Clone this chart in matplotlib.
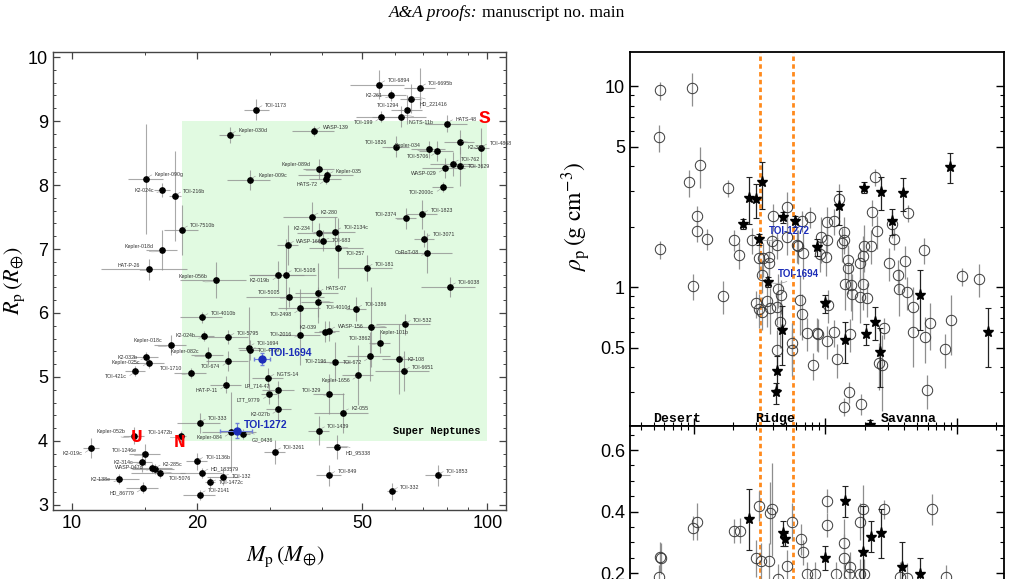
import matplotlib
matplotlib.use('Agg')
import matplotlib.pyplot as plt
import matplotlib.ticker as ticker
from matplotlib.patches import Rectangle
import numpy as np

plt.rcParams['font.family'] = ['Liberation Sans', 'DejaVu Sans']
plt.rcParams['mathtext.fontset'] = 'stix'

# ---------------- left panel: mass-radius diagram ----------------
planet_names = [
    'TOI-1173', 'Kepler-030d', 'Kepler-090g', 'K2-024c', 'TOI-216b', 'Kepler-009c',
    'TOI-6894', 'TOI-6695b', 'K2-261', 'HD_221416', 'TOI-1294', 'TOI-199',
    'NGTS-11b', 'HATS-48', 'WASP-139', 'K2-329', 'TOI-1826', 'TOI-4868',
    'Kepler-034', 'TOI-5706', 'TOI-762', 'TOI-3629', 'WASP-029', 'Kepler-089d',
    'Kepler-035', 'HATS-72', 'TOI-2000c', 'TOI-7510b', 'Kepler-018d', 'HAT-P-26',
    'Kepler-056b', 'K2-019b', 'TOI-5108', 'WASP-166', 'K2-280', 'K2-234',
    'TOI-2134c', 'TOI-683', 'TOI-257', 'TOI-2374', 'TOI-1823', 'TOI-3071',
    'CoRoT-08', 'TOI-181', 'TOI-6038', 'HATS-07', 'TOI-5005', 'TOI-4010d',
    'TOI-2498', 'TOI-1386', 'TOI-532', 'K2-039', 'WASP-156', 'TOI-2016',
    'Kepler-101b', 'TOI-3862', 'TOI-4010b', 'K2-024b', 'TOI-5795', 'Kepler-018c',
    'TOI-1694', 'TOI-4479', 'K2-032b', 'Kepler-025c', 'Kepler-082c', 'TOI-674',
    'TOI-421c', 'TOI-1710', 'NGTS-14', 'LP_714-47', 'HAT-P-11', 'LTT_9779',
    'K2-027b', 'TOI-333', 'Kepler-084', 'GJ_0436', 'Kepler-052b', 'TOI-1472b',
    'TOI-3261', 'K2-019c', 'TOI-1246e', 'K2-314c', 'K2-285c', 'WASP-047d',
    'TOI-5076', 'K2-138e', 'HD_86779', 'TOI-1136b', 'HD_183579', 'TOI-132',
    'TOI-1472c', 'TOI-2141', 'TOI-2196', 'TOI-672', 'K2-108', 'TOI-6651',
    'Kepler-1656', 'TOI-329', 'K2-055', 'TOI-1439', 'HD_95338', 'TOI-849',
    'TOI-332', 'TOI-1853',
]
planet_mass = [
    27.8, 24.0, 15.1, 16.5, 17.7, 26.8,
    54.9, 68.8, 58.6, 65.4, 64.1, 55.5,
    61.8, 79.9, 38.3, 85.7, 60.2, 96.5,
    72.3, 75.6, 82.5, 85.7, 78.9, 39.3,
    41.2, 40.8, 78.0, 18.4, 16.5, 15.3,
    22.2, 31.4, 32.7, 33.1, 37.9, 39.3,
    43.0, 40.3, 43.6, 63.5, 69.6, 70.5,
    71.5, 51.2, 81.2, 39.0, 33.3, 39.0,
    35.4, 48.3, 63.2, 40.6, 41.6, 35.4,
    52.5, 55.1, 20.6, 20.8, 23.8, 17.3,
    26.6, 26.8, 15.1, 15.3, 21.2, 23.8,
    14.2, 19.3, 29.7, 31.4, 23.5, 29.8,
    31.4, 20.3, 24.1, 25.8, 14.1, 18.3,
    30.8, 11.1, 15.0, 14.7, 15.8, 15.6,
    16.3, 13.0, 14.8, 20.0, 20.6, 23.1,
    21.5, 20.3, 43.0, 52.1, 61.2, 62.9,
    48.9, 41.6, 44.9, 39.3, 43.4, 41.6,
    58.9, 75.9,
]
planet_radius = [
    9.18, 8.78, 8.10, 7.92, 7.83, 8.08,
    9.57, 9.52, 9.40, 9.35, 9.18, 9.07,
    9.07, 8.96, 8.84, 8.67, 8.60, 8.58,
    8.56, 8.53, 8.33, 8.29, 8.27, 8.25,
    8.15, 8.09, 7.97, 7.30, 6.98, 6.68,
    6.51, 6.59, 6.60, 7.06, 7.50, 7.25,
    7.27, 7.13, 7.02, 7.48, 7.54, 7.16,
    6.94, 6.70, 6.41, 6.31, 6.25, 6.17,
    6.07, 6.06, 5.82, 5.71, 5.72, 5.66,
    5.78, 5.53, 5.93, 5.64, 5.62, 5.50,
    5.46, 5.42, 5.31, 5.22, 5.34, 5.25,
    5.09, 5.06, 4.98, 4.80, 4.88, 4.73,
    4.50, 4.28, 4.14, 4.11, 4.08, 4.07,
    3.83, 3.89, 3.79, 3.67, 3.56, 3.58,
    3.50, 3.40, 3.27, 3.68, 3.50, 3.44,
    3.35, 3.16, 5.24, 5.32, 5.28, 5.09,
    5.03, 4.73, 4.44, 4.16, 3.90, 3.46,
    3.21, 3.46,
]
mass_rel_err = [
    0.069, 0.057, 0.099, 0.045, 0.034, 0.117,
    0.149, 0.087, 0.087, 0.057, 0.087, 0.130,
    0.149, 0.117, 0.117, 0.081, 0.075, 0.045,
    0.093, 0.093, 0.117, 0.087, 0.117, 0.087,
    0.149, 0.087, 0.057, 0.093, 0.087, 0.234,
    0.181, 0.149, 0.181, 0.057, 0.149, 0.117,
    0.117, 0.057, 0.149, 0.057, 0.087, 0.057,
    0.149, 0.149, 0.149, 0.117, 0.214, 0.087,
    0.117, 0.057, 0.149, 0.057, 0.057, 0.117,
    0.087, 0.057, 0.117, 0.057, 0.117, 0.087,
    0.057, 0.057, 0.069, 0.087, 0.087, 0.117,
    0.057, 0.087, 0.087, 0.087, 0.087, 0.045,
    0.069, 0.117, 0.149, 0.039, 0.057, 0.028,
    0.057, 0.045, 0.087, 0.057, 0.117, 0.117,
    0.149, 0.117, 0.087, 0.057, 0.117, 0.087,
    0.028, 0.087, 0.087, 0.117, 0.087, 0.149,
    0.087, 0.087, 0.149, 0.057, 0.057, 0.069,
    0.028, 0.069,
]
radius_err = [
    0.17, 0.13, 0.86, 0.11, 0.70, 0.16,
    0.23, 0.31, 0.09, 0.23, 0.23, 0.08,
    0.16, 0.13, 0.08, 0.19, 0.16, 0.31,
    0.13, 0.16, 0.19, 0.31, 0.16, 0.16,
    0.08, 0.08, 0.08, 0.39, 0.31, 0.16,
    0.28, 0.23, 0.55, 0.31, 0.23, 0.16,
    0.23, 0.16, 0.47, 0.16, 0.23, 0.13,
    0.31, 0.20, 0.16, 0.47, 0.16, 0.23,
    0.31, 0.19, 0.16, 0.16, 0.16, 0.47,
    0.63, 0.16, 0.08, 0.08, 0.11, 0.16,
    0.63, 0.16, 0.08, 0.08, 0.13, 0.16,
    0.08, 0.08, 0.16, 0.13, 0.13, 0.16,
    0.23, 0.16, 0.63, 0.08, 0.13, 0.09,
    0.19, 0.16, 0.16, 0.16, 0.08, 0.08,
    0.08, 0.08, 0.08, 0.13, 0.08, 0.13,
    0.08, 0.08, 0.31, 0.39, 0.55, 0.31,
    0.47, 0.31, 0.31, 0.23, 0.19, 0.16,
    0.13, 0.16,
]

highlight_names = ['TOI-1694', 'TOI-1272']
highlight_mass = [28.7, 24.9]
highlight_radius = [5.28, 4.16]
highlight_mass_err = [1.3, 2.2]
highlight_radius_err = [0.09, 0.12]

box_mass = [18.4, 100.0]
box_radius = [4.0, 9.0]

# label placement around each point (layout only)
label_side = [
    'ru', 'ru', 'ru', 'l', 'ru', 'ru',
    'ru', 'ru', 'l', 'rd', 'lu', 'ld',
    'rd', 'ru', 'ru', 'rd', 'lu', 'ru',
    'lu', 'ld', 'ru', 'r', 'ld', 'lu',
    'ru', 'ld', 'ld', 'ru', 'lu', 'lu',
    'lu', 'ld', 'ru', 'ru', 'ru', 'lu',
    'ru', 'r', 'rd', 'lu', 'ru', 'ru',
    'l', 'ru', 'ru', 'ru', 'lu', 'rd',
    'ld', 'ru', 'ru', 'lu', 'ru', 'l',
    'rd', 'lu', 'ru', 'l', 'ru', 'lu',
    'ru', 'r', 'l', 'l', 'lu', 'ld',
    'ld', 'lu', 'ru', 'lu', 'ld', 'ld',
    'ld', 'ru', 'ld', 'rd', 'lu', 'lu',
    'ru', 'ld', 'lu', 'l', 'ru', 'l',
    'rd', 'l', 'ld', 'ru', 'ru', 'r',
    'r', 'ru', 'l', 'ld', 'r', 'ru',
    'ld', 'lu', 'ru', 'ru', 'rd', 'ru',
    'ru', 'ru',
]
side_offsets = {'ru': (6, 3), 'r': (6, 0), 'rd': (6, -4),
                'lu': (-6, 3), 'l': (-6, 0), 'ld': (-6, -4)}

# ---------------- right panels: density / second quantity vs period ----------------
dens_circ_period = [
    0.556, 0.978, 0.547, 1.12, 0.924, 1.83, 1.06, 1.06, 1.26, 2.04,
    4.0, 5.16, 6.71, 7.68, 2.77, 3.97, 4.28, 0.556, 6.08, 5.13,
    23.9, 22.6, 42.9, 12.7, 32.0, 24.8, 33.6, 13.8, 13.8, 13.4,
    10.3, 11.7, 9.25, 10.3, 19.7, 22.3, 56.4, 2.23, 3.16, 3.39,
    3.73, 3.74, 3.33, 0.996, 1.68, 4.41, 4.60, 2.98, 3.15, 3.33,
    3.6, 3.81, 4.28, 4.54, 4.28, 5.63, 5.63, 6.44, 6.71, 7.32,
    8.63, 8.09, 6.19, 6.83, 9.14, 10.2, 19.5, 18.4, 15.0, 14.9,
    14.2, 15.6, 15.9, 19.3, 18.4, 20.7, 30.7, 40.6, 35.8, 36.6,
    41.7, 110.0, 147.6, 10.6, 8.87, 10.3, 11.7, 15.5, 28.0, 25.5,
    27.0, 12.4, 46.5, 46.5, 57.7, 62.7, 90.9, 81.9, 15.2, 13.8,
    18.6, 59.1,
]
dens_circ_rho = [
    9.52, 9.81, 5.56, 4.03, 3.32, 3.11, 2.25, 1.90, 1.74, 1.71,
    2.25, 2.51, 2.13, 2.24, 1.71, 1.70, 1.62, 1.54, 1.62, 1.78,
    3.53, 2.37, 2.33, 2.73, 2.07, 1.90, 1.73, 1.88, 1.71, 1.65,
    2.11, 2.13, 1.78, 1.71, 1.61, 1.61, 1.53, 1.44, 1.39, 1.39,
    1.42, 1.32, 1.15, 1.01, 0.905, 0.977, 0.912, 0.83, 0.777, 0.754,
    0.852, 0.786, 0.798, 0.672, 0.488, 0.525, 0.486, 0.862, 0.734, 0.592,
    0.592, 0.408, 1.61, 1.48, 1.46, 1.41, 1.43, 1.32, 1.36, 1.25,
    1.04, 1.03, 0.923, 1.04, 0.895, 0.879, 1.32, 1.35, 1.15, 0.974,
    0.948, 1.13, 1.10, 0.814, 0.584, 0.541, 0.595, 0.584, 0.627, 0.417,
    0.408, 0.438, 0.792, 0.595, 0.566, 0.66, 0.685, 0.49, 0.301, 0.254,
    0.262, 0.307,
]
dens_circ_err = [
    0.10, 0.19, 0.15, 0.23, 0.15, 0.10, 0.12, 0.12, 0.12, 0.12,
    0.15, 0.19, 0.12, 0.12, 0.15, 0.12, 0.15, 0.10, 0.19, 0.19,
    0.10, 0.15, 0.10, 0.19, 0.15, 0.19, 0.12, 0.19, 0.15, 0.19,
    0.19, 0.15, 0.26, 0.15, 0.26, 0.19, 0.15, 0.15, 0.19, 0.19,
    0.19, 0.15, 0.19, 0.15, 0.19, 0.19, 0.19, 0.15, 0.19, 0.19,
    0.26, 0.26, 0.19, 0.26, 0.26, 0.26, 0.26, 0.33, 0.26, 0.19,
    0.19, 0.15, 0.19, 0.26, 0.19, 0.19, 0.26, 0.19, 0.19, 0.26,
    0.26, 0.26, 0.26, 0.26, 0.26, 0.19, 0.19, 0.19, 0.19, 0.26,
    0.19, 0.10, 0.19, 0.19, 0.19, 0.19, 0.15, 0.19, 0.12, 0.26,
    0.41, 0.19, 0.26, 0.33, 0.26, 0.26, 0.33, 0.19, 0.12, 0.10,
    0.12, 0.19,
]
dens_star_period = [3.3, 2.64, 2.97, 2.36, 4.76, 5.94, 3.16, 88.9, 19.7, 26.4,
                    39.3, 12.8, 32.4, 8.63, 3.66, 4.70, 4.33, 4.21, 52.8, 10.0,
                    14.2, 20.3, 24.1, 26.1, 171.9, 21.9]
dens_star_rho = [3.32, 2.79, 2.74, 2.06, 2.23, 2.13, 1.73, 3.97, 3.13, 2.98,
                 2.94, 2.53, 2.13, 1.58, 1.06, 0.609, 0.383, 0.299, 0.916, 0.83,
                 0.545, 0.584, 0.672, 0.473, 0.595, 0.206]
dens_star_err = [0.26, 0.26, 0.19, 0.06, 0.06, 0.06, 0.06, 0.17, 0.06, 0.19,
                 0.19, 0.19, 0.15, 0.10, 0.06, 0.33, 0.19, 0.12, 0.33, 0.10,
                 0.23, 0.12, 0.19, 0.33, 0.33, 0.06]

ridge_names = ['TOI-1272', 'TOI-1694']
ridge_period = [3.16, 3.66]
ridge_rho = [1.73, 1.06]

frac_circ_period = [
    0.553, 0.566, 0.545, 0.996, 1.07, 2.04, 2.26, 3.14, 2.98, 3.25,
    3.75, 3.81, 3.97, 5.16, 5.63, 6.56, 6.83, 7.32, 8.43, 10.4,
    10.3, 13.8, 13.8, 15.5, 12.2, 18.4, 19.3, 18.4, 19.7, 15.2,
    27.9, 37.1, 41.7, 65.2, 82.5, 4.35,
]
frac_circ_val = [
    0.253, 0.248, 0.188, 0.347, 0.367, 0.337, 0.338, 0.418, 0.248, 0.239,
    0.239, 0.396, 0.407, 0.224, 0.367, 0.31, 0.268, 0.197, 0.197, 0.434,
    0.356, 0.297, 0.248, 0.219, 0.197, 0.367, 0.407, 0.197, 0.197, 0.197,
    0.407, 0.188, 0.184, 0.407, 0.188, 0.18,
]
frac_circ_err = [
    0.05, 0.05, 0.04, 0.04, 0.06, 0.04, 0.04, 0.05, 0.06, 0.06,
    0.06, 0.10, 0.15, 0.05, 0.06, 0.05, 0.04, 0.04, 0.04, 0.04,
    0.04, 0.08, 0.08, 0.05, 0.04, 0.06, 0.08, 0.05, 0.05, 0.05,
    0.03, 0.05, 0.05, 0.05, 0.04, 0.05,
]
frac_star_period = [2.63, 4.76, 4.96, 10.0, 14.2, 19.5, 22.2, 26.4, 38.6, 52.6]
frac_star_val = [0.375, 0.329, 0.31, 0.25, 0.434, 0.269, 0.318, 0.329, 0.22, 0.199]
frac_star_err = [0.10, 0.04, 0.02, 0.04, 0.05, 0.15, 0.05, 0.08, 0.08, 0.05]

ridge_edges = [3.2, 5.7]
region_names = ['Desert', 'Ridge', 'Savanna']
region_centres = [0.75, 4.2, 42.9]

fig = plt.figure(figsize=(10.13, 5.79), dpi=100)

fig.text(0.4715, 0.9775, 'A&A proofs:', ha='right', va='center', fontsize=12.5,
         family='Liberation Serif', style='italic')
fig.text(0.4755, 0.9775, 'manuscript no. main', ha='left', va='center', fontsize=12.5,
         family='Liberation Serif')

# ---- left axes
ax = fig.add_axes([0.0523, 0.1192, 0.4472, 0.7910])
ax.set_xscale('log')
ax.set_xlim(9.0, 110.8)
ax.set_ylim(2.92, 10.08)

ax.add_patch(Rectangle((box_mass[0], box_radius[0]), box_mass[1] - box_mass[0],
                       box_radius[1] - box_radius[0], facecolor='#e1fae1',
                       edgecolor='none', zorder=0))

mass = np.array(planet_mass)
rad = np.array(planet_radius)
ax.errorbar(mass, rad, xerr=mass * np.array(mass_rel_err), yerr=radius_err,
            fmt='none', ecolor='#8c8c8c', elinewidth=0.8, alpha=0.75, zorder=1)
ax.plot(mass, rad, 'o', color='black', ms=3.8, zorder=3)

for name, m, r, side in zip(planet_names, planet_mass, planet_radius, label_side):
    dx, dy = side_offsets[side]
    ax.annotate(name, (m, r), xytext=(dx, dy), textcoords='offset points',
                ha='left' if dx > 0 else 'right', va='center', fontsize=3.8,
                color='#333333', zorder=4,
                arrowprops=dict(arrowstyle='-', color='#999999', lw=0.4,
                                connectionstyle='arc3,rad=0.3', shrinkA=0, shrinkB=2))

ax.errorbar(highlight_mass, highlight_radius, xerr=highlight_mass_err,
            yerr=highlight_radius_err, fmt='o', color='#1c2db8', ms=5,
            ecolor='#6f7fd8', elinewidth=0.8, capsize=1.5, zorder=5)
for name, m, r in zip(highlight_names, highlight_mass, highlight_radius):
    ax.annotate(name, (m, r), xytext=(5, 4), textcoords='offset points',
                ha='left', va='center', fontsize=7.5, fontweight='bold',
                color='#1c2db8', zorder=6)

ax.text(14.27, 4.06, 'U', color='red', fontsize=14, fontweight='bold',
        family='Liberation Mono', ha='center', va='center', zorder=6)
ax.text(18.13, 3.97, 'N', color='red', fontsize=14, fontweight='bold',
        family='Liberation Mono', ha='center', va='center', zorder=6)
ax.text(98.6, 9.04, 'S', color='red', fontsize=14, fontweight='bold',
        family='Liberation Mono', ha='center', va='center', zorder=6)
ax.text(96, 4.16, 'Super Neptunes', ha='right', va='center', fontsize=7.5,
        fontweight='bold', family='Liberation Mono', zorder=6)

ax.xaxis.set_major_locator(ticker.FixedLocator([10, 20, 50, 100]))
ax.xaxis.set_major_formatter(ticker.FuncFormatter(lambda v, p: f'{v:g}'))
ax.xaxis.set_minor_locator(ticker.FixedLocator([15, 30, 40, 60, 70, 80, 90]))
ax.xaxis.set_minor_formatter(ticker.NullFormatter())
ax.yaxis.set_major_locator(ticker.MultipleLocator(1))
ax.yaxis.set_minor_locator(ticker.MultipleLocator(0.2))
ax.tick_params(which='both', direction='in', top=True, right=True, colors='#444444',
               labelcolor='black', labelsize=13)
ax.tick_params(which='major', length=5, width=0.9)
ax.tick_params(which='minor', length=2.5, width=0.7)
for s in ax.spines.values():
    s.set_color('#444444')
    s.set_linewidth(1.0)
ax.set_xlabel(r'$M_{\rm p}\,(M_{\oplus})$', fontsize=16)
ax.set_ylabel(r'$R_{\rm p}\,(R_{\oplus})$', fontsize=16)
ax.xaxis.set_label_coords(0.512, -0.075)
ax.yaxis.set_label_coords(-0.058, 0.5)

# ---- right axes
ax_top = fig.add_axes([0.6219, 0.2642, 0.3692, 0.6460])
ax_bot = fig.add_axes([0.6219, -0.0432, 0.3692, 0.3074])

circ_style = dict(fmt='o', mfc='none', mec='#3a3a3a', ms=7.5, mew=0.7,
                  ecolor='#8e8e8e', elinewidth=0.9, zorder=3)
star_style = dict(fmt='*', color='black', ms=8, ecolor='#222222', elinewidth=0.9,
                  capsize=2, capthick=0.8, zorder=4)

cp = np.array(dens_circ_period)
cr = np.array(dens_circ_rho)
ax_top.errorbar(cp, cr, yerr=cr * np.array(dens_circ_err), **circ_style)
sp = np.array(dens_star_period)
sr = np.array(dens_star_rho)
ax_top.errorbar(sp, sr, yerr=sr * np.array(dens_star_err), **star_style)
for name, p, r in zip(ridge_names, ridge_period, ridge_rho):
    ax_top.annotate(name, (p, r), xytext=(7, 6), textcoords='offset points',
                    ha='left', va='center', fontsize=7, fontweight='bold',
                    color='#1c2db8', zorder=6,
                    arrowprops=dict(arrowstyle='-', color='#999999', lw=0.5,
                                    connectionstyle='arc3,rad=-0.3',
                                    shrinkA=0, shrinkB=3))

ax_bot.errorbar(frac_circ_period, frac_circ_val, yerr=frac_circ_err, **circ_style)
ax_bot.errorbar(frac_star_period, frac_star_val, yerr=frac_star_err, **star_style)

for a in (ax_top, ax_bot):
    a.set_xscale('log')
    a.set_xlim(0.329, 228.6)
    for e in ridge_edges:
        a.axvline(e, color='#ff8a1c', ls=(0, (1.6, 1.2)), lw=2, zorder=2)
    for s in a.spines.values():
        s.set_linewidth(1.3)
    a.tick_params(which='both', direction='in', right=True, labelsize=13)
    a.tick_params(which='major', length=6, width=1)
    a.tick_params(which='minor', length=3, width=0.8)
    a.xaxis.set_major_locator(ticker.LogLocator(base=10, numticks=10))
    a.xaxis.set_minor_locator(ticker.LogLocator(base=10, subs=np.arange(2, 10), numticks=20))
    a.xaxis.set_major_formatter(ticker.NullFormatter())
    a.xaxis.set_minor_formatter(ticker.NullFormatter())

ax_top.set_yscale('log')
ax_top.set_ylim(0.2035, 14.8)
ax_top.yaxis.set_major_locator(ticker.FixedLocator([0.5, 1, 5, 10]))
ax_top.yaxis.set_major_formatter(ticker.FixedFormatter(['0.5', '1', '5', '10']))
ax_top.yaxis.set_minor_locator(ticker.FixedLocator(
    [0.3, 0.4, 0.6, 0.7, 0.8, 0.9, 2, 3, 4, 6, 7, 8, 9]))
ax_top.yaxis.set_minor_formatter(ticker.NullFormatter())
ax_top.tick_params(which='both', top=False, bottom=True)
ax_top.set_ylabel(r'$\rho_{\rm p}\,({\rm g\ cm^{-3}})$', fontsize=17)
ax_top.yaxis.set_label_coords(-0.1, 0.56)

trans = ax_top.get_xaxis_transform()
for name, p in zip(region_names, region_centres):
    ax_top.text(p, 0.003, name, transform=trans, ha='center', va='bottom',
                fontsize=9.5, fontweight='bold', family='Liberation Mono', zorder=6)

ax_bot.set_ylim(0.1, 0.678)
ax_bot.yaxis.set_major_locator(ticker.FixedLocator([0.2, 0.4, 0.6]))
ax_bot.yaxis.set_major_formatter(ticker.FuncFormatter(lambda v, p: f'{v:.1f}'))
ax_bot.yaxis.set_minor_locator(ticker.MultipleLocator(0.05))
ax_bot.tick_params(which='both', top=True, bottom=False)

fig.savefig('out.png', dpi=100)
